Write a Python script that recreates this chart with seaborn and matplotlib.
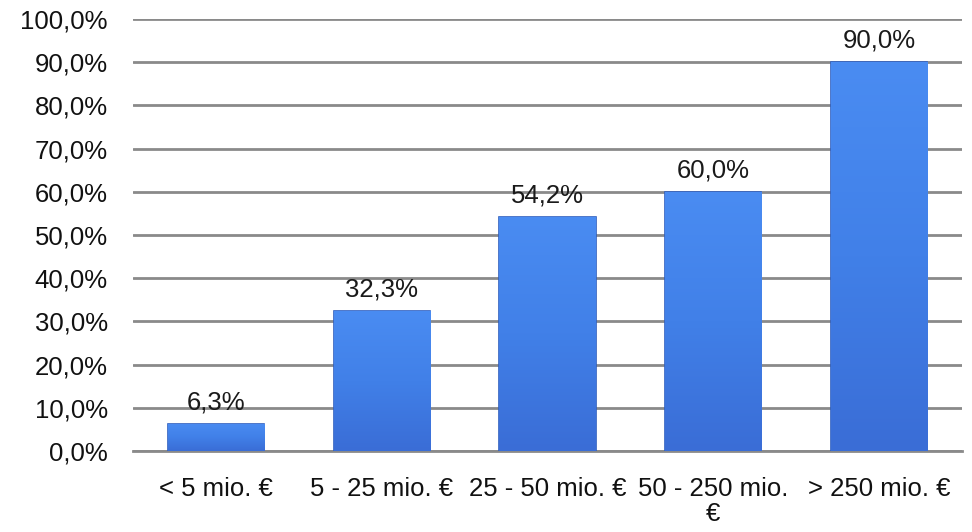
import numpy as np
import pandas as pd
import seaborn as sns
import matplotlib.pyplot as plt
from matplotlib.colors import LinearSegmentedColormap
from matplotlib.ticker import FuncFormatter

# Daten
kategorien = ["< 5 mio. €", "5 - 25 mio. €", "25 - 50 mio. €", "50 - 250 mio.\n€", "> 250 mio. €"]
anteile = [6.3, 32.3, 54.2, 60.0, 90.0]

df = pd.DataFrame({"Kategorie": kategorien, "Anteil": anteile})

sns.set_theme(style="white")
plt.rcParams["font.family"] = ["Liberation Sans", "DejaVu Sans"]

fig = plt.figure(figsize=(9.72, 5.32), dpi=100)
ax = fig.add_axes([0.1368, 0.1523, 0.8529, 0.812])

sns.barplot(data=df, x="Kategorie", y="Anteil", color="#3f7be6", saturation=1,
            width=0.58, edgecolor="#2f5fbf", linewidth=1.2, ax=ax, zorder=3)

# Verlauf in den Balken (Excel-Optik), dezent
verlauf = LinearSegmentedColormap.from_list("verlauf", ["#3a6dd6", "#4180e8", "#4a8cf2"])
grad = np.linspace(0, 1, 256).reshape(-1, 1)
for p in ax.patches:
    x0, y0 = p.get_x(), p.get_y()
    w, h = p.get_width(), p.get_height()
    im = ax.imshow(grad, cmap=verlauf, aspect="auto", origin="lower",
                   extent=[x0, x0 + w, y0, y0 + h], zorder=3.5)
    im.set_clip_path(p)

# Werte über den Balken
for i, v in enumerate(anteile):
    ax.annotate(f"{v:.1f}%".replace(".", ","), (i, v), xytext=(0, 7),
                textcoords="offset points", ha="center", va="bottom",
                fontsize=18.5, color="#1a1a1a", zorder=5)

ax.set_ylim(0, 100)
ax.set_xlim(-0.5, 4.5)
ax.set_yticks(np.arange(0, 101, 10))
ax.yaxis.set_major_formatter(FuncFormatter(lambda y, _: f"{y:.1f}%".replace(".", ",")))
ax.grid(axis="y", color="#8a8a8a", linewidth=2, zorder=0)
ax.set_axisbelow(True)

for s in ["top", "right", "left"]:
    ax.spines[s].set_visible(False)
ax.spines["bottom"].set_color("#8a8a8a")
ax.spines["bottom"].set_linewidth(2)

ax.tick_params(axis="y", labelsize=18.5, length=0, pad=18, colors="#111111")
ax.tick_params(axis="x", labelsize=18.5, length=0, pad=19, colors="#111111")
for lbl in ax.get_xticklabels():
    lbl.set_linespacing(1.05)
ax.set_xlabel("")
ax.set_ylabel("")

fig.savefig("out.png", dpi=100)
